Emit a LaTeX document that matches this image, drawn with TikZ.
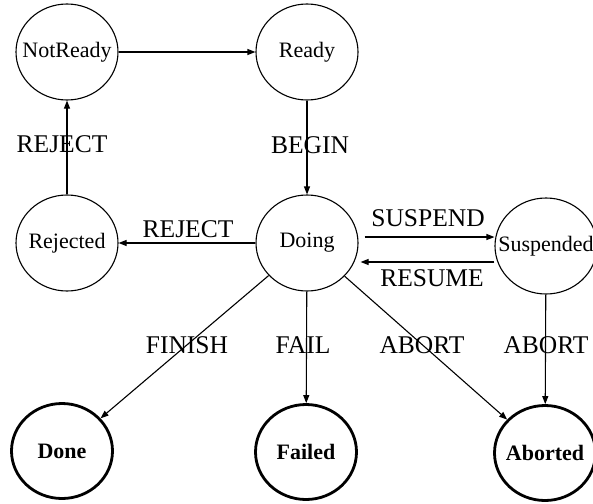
\documentclass[tikz,border=0pt]{standalone}
\usepackage{fontspec}
\setmainfont{Liberation Serif}
\usetikzlibrary{shapes.geometric,arrows.meta,calc}
\newcommand{\zw}[1]{\makebox[0pt]{#1}}
\begin{document}
\begin{tikzpicture}[x=1pt,y=-1pt,
  state/.style={ellipse,draw,line width=1.1pt,minimum width=102pt,minimum height=96pt,inner sep=0pt,
    font=\fontsize{22}{22}\selectfont},
  final/.style={state,line width=2.8pt,minimum width=101pt,minimum height=95pt,
    font=\fontsize{22}{22}\selectfont\bfseries},
  arr/.style={line width=1.1pt,-{Triangle[length=8pt,width=6pt]}},
  lbl/.style={inner sep=0pt,font=\fontsize{25.5}{25.5}\selectfont}]
\useasboundingbox (0,0) rectangle (593,503);
\fill[white] (0,0) rectangle (593,503);

\node[state] (notready) at (67,52) {\zw{NotReady}};
\node[state] (ready) at (307,52) {\zw{Ready}};
\node[state] (rejected) at (67,243) {\zw{Rejected}};
\node[state] (doing) at (307,243) {\zw{Doing}};
\node[state] (suspended) at (546,246) {\zw{Suspended}};
\node[final] (done) at (62,451) {\zw{Done}};
\node[final] (failed) at (306,452) {\zw{Failed}};
\node[final] (aborted) at (545,453) {\zw{Aborted}};

\draw[arr] (notready) -- (ready);
\draw[arr] (ready) -- (doing);
\draw[arr] (rejected) -- (notready);
\draw[arr] (doing) -- (rejected);
\draw[arr] ([shift={(6,-6)}]doing.east) -- ([shift={(0,-6)}]doing.east -| suspended.west);
\draw[arr] ([shift={(0,19)}]doing.east -| suspended.west) -- ([shift={(2,19)}]doing.east);
\draw[arr] (doing) -- (done);
\draw[arr] (doing) -- (failed);
\draw[arr] (doing) -- (aborted);
\draw[arr] (suspended) -- (aborted);

\node[lbl] (l1) at (62,144) {REJECT};
\node[lbl] (l2) at (310,145) {BEGIN};
\node[lbl] (l3) at (188,229) {REJECT};
\node[lbl] (l4) at (428,218) {SUSPEND};
\node[lbl] (l5) at (432,278) {RESUME};
\node[lbl] (l6) at (187,345) {FINISH};
\node[lbl] (l7) at (303,345) {FAIL};
\node[lbl] (l8) at (422,345) {ABORT};
\node[lbl] (l9) at (546,345) {ABORT};
\end{tikzpicture}
\end{document}
